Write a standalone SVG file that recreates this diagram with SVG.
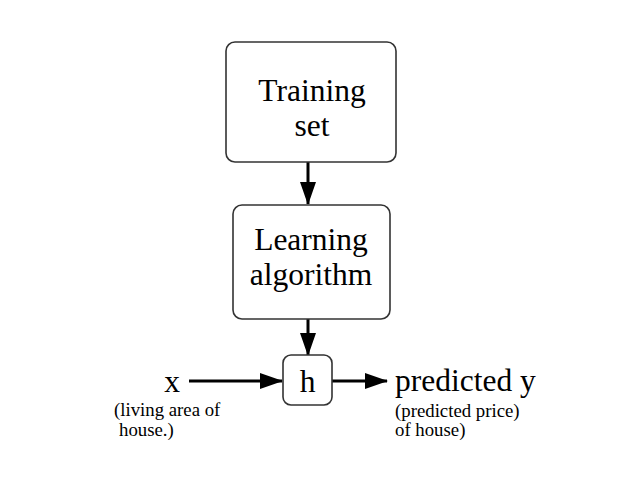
<svg xmlns="http://www.w3.org/2000/svg" width="620" height="496" viewBox="0 0 620 496">
<style>
.box{fill:#fff;stroke:#333;stroke-width:1.6}
.big{font-family:"Liberation Serif",serif;font-size:31.5px;fill:#000}
.small{font-family:"Liberation Serif",serif;font-size:18.8px;fill:#000}
.conn{stroke:#000;stroke-width:3;fill:none}
</style>
<defs>
<marker id="ah" markerUnits="userSpaceOnUse" markerWidth="23" markerHeight="16" refX="22" refY="8" orient="auto">
<path d="M0,0 L23,8 L0,16 Z" fill="#000"/>
</marker>
</defs>
<rect width="620" height="496" fill="#fff"/>
<g id="connectors">
<line class="conn" x1="308" y1="162" x2="308" y2="204" marker-end="url(#ah)"/>
<line class="conn" x1="308" y1="319" x2="308" y2="355" marker-end="url(#ah)"/>
<line class="conn" x1="189" y1="381" x2="282" y2="381" marker-end="url(#ah)"/>
<line class="conn" x1="332" y1="381" x2="387" y2="381" marker-end="url(#ah)"/>
</g>
<g id="training">
<rect class="box" x="226" y="42" width="170" height="120" rx="9"/>
<text class="big" x="312" y="101" text-anchor="middle">Training</text>
<text class="big" x="312" y="136" text-anchor="middle">set</text>
</g>
<g id="learning">
<rect class="box" x="233" y="205" width="157" height="114" rx="9"/>
<text class="big" x="311" y="250" text-anchor="middle">Learning</text>
<text class="big" x="311" y="285" text-anchor="middle">algorithm</text>
</g>
<g id="h">
<rect class="box" x="283" y="355" width="49" height="50" rx="8"/>
<text class="big" x="307.5" y="392" text-anchor="middle">h</text>
</g>
<g id="x">
<text class="big" x="172" y="392" text-anchor="middle">x</text>
<text class="small" x="114" y="416">(living area of</text>
<text class="small" x="119" y="436">house.)</text>
</g>
<g id="y">
<text class="big" x="395" y="391">predicted y</text>
<text class="small" x="395" y="417">(predicted price)</text>
<text class="small" x="395" y="436">of house)</text>
</g>
</svg>
